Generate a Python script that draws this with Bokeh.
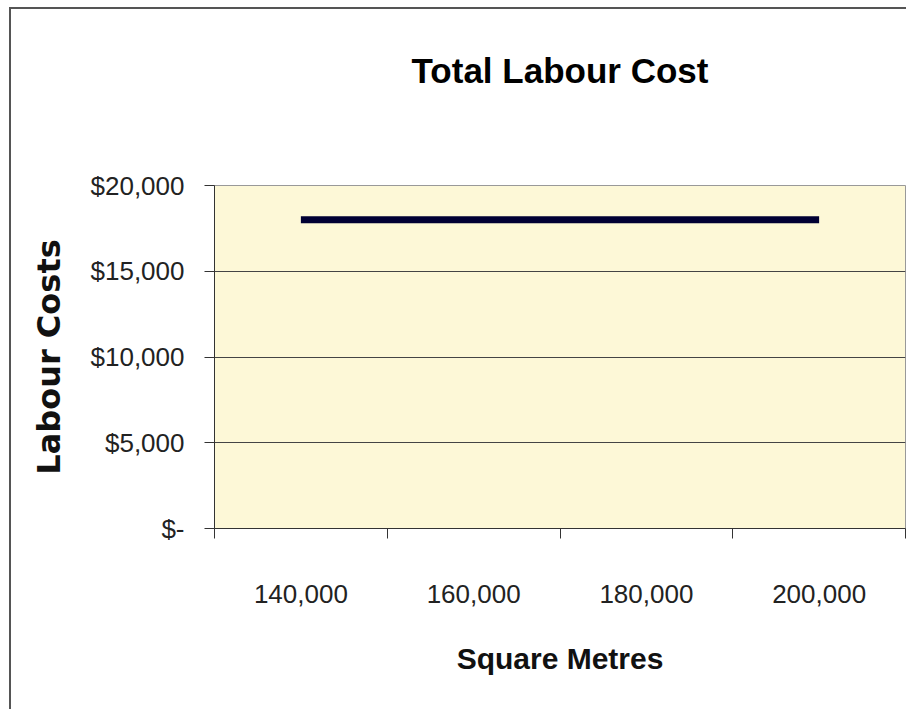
from bokeh.plotting import figure
from bokeh.models import FixedTicker, NumeralTickFormatter, LinearAxis
from bokeh.embed import file_html
from bokeh.resources import INLINE

# Data
categories = ["140,000", "160,000", "180,000", "200,000"]
labour_cost = [18000, 18000, 18000, 18000]
y_ticks = [0, 5000, 10000, 15000, 20000]
title_text = "Total Labour Cost"

x_pos = [i + 0.5 for i in range(len(categories))]
y_max = y_ticks[-1]

FONT = "Liberation Sans"

p = figure(width=897, height=702, output_backend="svg", toolbar_location=None,
           x_range=(0, len(categories)), y_range=(0, y_max),
           min_border_left=203, min_border_right=3, min_border_top=176, min_border_bottom=183)
p.styles = {"margin-left": "9px", "margin-top": "7px",
            "border-left": "2px solid #555", "border-top": "2px solid #555"}

p.background_fill_color = "#FDF8D7"
p.border_fill_color = "white"
p.outline_line_color = "#999999"
p.outline_line_width = 1

p.line(x_pos, labour_cost, line_color="#000033", line_width=7)

# X axis (bottom)
xa = p.below[0]
xa.ticker = FixedTicker(ticks=x_pos, minor_ticks=list(range(len(categories) + 1)))
xa.major_label_overrides = {x: c for x, c in zip(x_pos, categories)}
xa.major_tick_line_color = None
xa.major_tick_out = 0
xa.major_tick_in = 0
xa.minor_tick_line_color = "#333333"
xa.minor_tick_out = 10
xa.minor_tick_in = 0
xa.axis_line_color = "#333333"
xa.axis_line_width = 1
xa.major_label_text_font = FONT
xa.major_label_text_font_size = "26px"
xa.major_label_text_color = "#222222"
xa.major_label_standoff = 46
xa.axis_label = "Square Metres"
xa.axis_label_text_font = FONT
xa.axis_label_text_font_size = "30px"
xa.axis_label_text_font_style = "bold"
xa.axis_label_text_color = "#111111"
xa.axis_label_standoff = 36

# Y axis
ya = p.left[0]
ya.ticker = FixedTicker(ticks=y_ticks, minor_ticks=[])
ya.formatter = NumeralTickFormatter(format="$0,0")
ya.major_label_overrides = {0: "$-"}
ya.major_tick_line_color = "#333333"
ya.major_tick_out = 10
ya.major_tick_in = 0
ya.axis_line_color = "#333333"
ya.major_label_text_font = FONT
ya.major_label_text_font_size = "26px"
ya.major_label_text_color = "#222222"
ya.major_label_standoff = 20
ya.axis_label = "Labour Costs"
ya.axis_label_text_font = "DejaVu Sans"
ya.axis_label_text_font_size = "32px"
ya.axis_label_text_font_style = "bold"
ya.axis_label_text_color = "#111111"
ya.axis_label_standoff = 20

# Title drawn as the label of a bare axis above the plot area
top_axis = LinearAxis(ticker=FixedTicker(ticks=[], minor_ticks=[]), axis_line_color=None,
                      major_tick_line_color=None, minor_tick_line_color=None,
                      major_tick_out=0, major_tick_in=0, minor_tick_out=0, minor_tick_in=0,
                      major_label_text_font_size="0px", major_label_standoff=0,
                      axis_label=title_text, axis_label_standoff=96,
                      axis_label_text_font=FONT, axis_label_text_font_size="35px",
                      axis_label_text_font_style="bold", axis_label_text_color="black")
p.add_layout(top_axis, "above")

p.xgrid.grid_line_color = None
p.ygrid.ticker = FixedTicker(ticks=y_ticks[1:-1])
p.ygrid.grid_line_color = "#444444"
p.ygrid.grid_line_width = 1

open("out.html", "w").write(file_html(p, INLINE))
